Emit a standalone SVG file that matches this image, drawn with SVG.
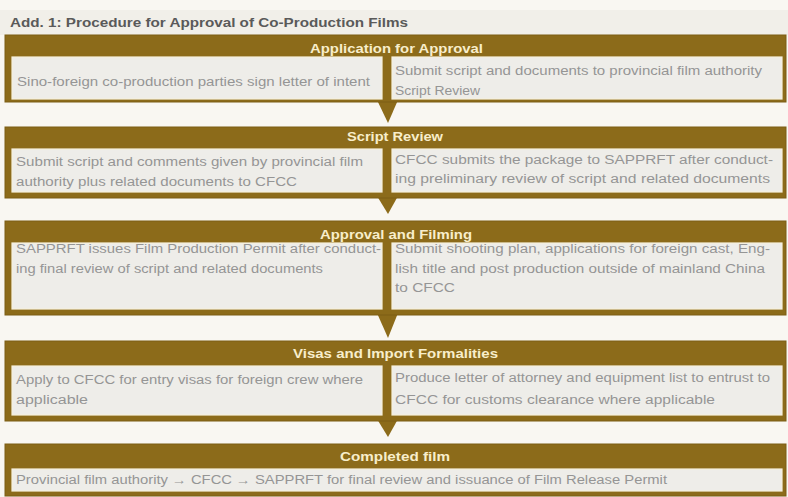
<svg xmlns="http://www.w3.org/2000/svg" width="788" height="497" viewBox="0 0 788 497">
<style>
.blk{fill:#8c6b1a;stroke:#7c5e14;stroke-width:1}
.cell{fill:#eeede9;stroke:#f7f1dc;stroke-width:1.2}
.hd{font-family:"Liberation Sans",Arial,sans-serif;font-weight:bold;font-size:13.5px;fill:#f8eecb;text-anchor:start}
.tx{font-family:"Liberation Sans",Arial,sans-serif;font-size:12px;fill:#959595}
.title{font-family:"Liberation Sans",Arial,sans-serif;font-weight:bold;font-size:13px;fill:#5a5a5a}
.arr{fill:#8c6b1a}
</style>
<rect x="0" y="0" width="788" height="497" fill="#f9f7f2"/>
<rect x="0" y="10" width="788" height="25" fill="#f1efe9"/>
<text class="title" x="10" y="27" textLength="398" lengthAdjust="spacingAndGlyphs">Add. 1: Procedure for Approval of Co-Production Films</text>

<g id="connectors">
<polygon class="arr" points="377,100 398,100 388,123"/>
<polygon class="arr" points="377,196 398,196 388,214"/>
<polygon class="arr" points="377,313 398,313 388,338"/>
<polygon class="arr" points="377,419 398,419 388,437"/>
</g>

<g id="application">
<rect class="blk" x="5" y="35" width="781" height="67"/>
<text class="hd" x="310" y="53" textLength="173" lengthAdjust="spacingAndGlyphs">Application for Approval</text>
<rect class="cell" x="12" y="57" width="370" height="42"/>
<rect class="cell" x="392" y="57" width="390" height="42"/>
<text class="tx" x="17" y="86" textLength="353" lengthAdjust="spacingAndGlyphs">Sino-foreign co-production parties sign letter of intent</text>
<text class="tx" x="395" y="75" textLength="367" lengthAdjust="spacingAndGlyphs">Submit script and documents to provincial film authority</text>
<text class="tx" x="395" y="95" textLength="85" lengthAdjust="spacingAndGlyphs">Script Review</text>
</g>

<g id="script-review">
<rect class="blk" x="5" y="127" width="781" height="71"/>
<text class="hd" x="347" y="141" textLength="96" lengthAdjust="spacingAndGlyphs">Script Review</text>
<rect class="cell" x="12" y="149" width="370" height="43"/>
<rect class="cell" x="392" y="149" width="390" height="43"/>
<text class="tx" x="16" y="166" textLength="347" lengthAdjust="spacingAndGlyphs">Submit script and comments given by provincial film</text>
<text class="tx" x="16" y="186" textLength="281" lengthAdjust="spacingAndGlyphs">authority plus related documents to CFCC</text>
<text class="tx" x="395" y="164" textLength="378" lengthAdjust="spacingAndGlyphs">CFCC submits the package to SAPPRFT after conduct-</text>
<text class="tx" x="395" y="183" textLength="375" lengthAdjust="spacingAndGlyphs">ing preliminary review of script and related documents</text>
</g>

<g id="approval-filming">
<rect class="blk" x="5" y="221" width="781" height="94"/>
<text class="hd" x="320" y="239" textLength="152" lengthAdjust="spacingAndGlyphs">Approval and Filming</text>
<rect class="cell" x="12" y="243" width="370" height="66"/>
<rect class="cell" x="392" y="243" width="390" height="66"/>
<text class="tx" x="16" y="253" textLength="365" lengthAdjust="spacingAndGlyphs">SAPPRFT issues Film Production Permit after conduct-</text>
<text class="tx" x="16" y="273" textLength="307" lengthAdjust="spacingAndGlyphs">ing final review of script and related documents</text>
<text class="tx" x="395" y="253" textLength="375" lengthAdjust="spacingAndGlyphs">Submit shooting plan, applications for foreign cast, Eng-</text>
<text class="tx" x="395" y="273" textLength="370" lengthAdjust="spacingAndGlyphs">lish title and post production outside of mainland China</text>
<text class="tx" x="395" y="292" textLength="60" lengthAdjust="spacingAndGlyphs">to CFCC</text>
</g>

<g id="visas-import">
<rect class="blk" x="5" y="341" width="781" height="80"/>
<text class="hd" x="293" y="358" textLength="205" lengthAdjust="spacingAndGlyphs">Visas and Import Formalities</text>
<rect class="cell" x="12" y="366" width="370" height="49"/>
<rect class="cell" x="392" y="366" width="390" height="49"/>
<text class="tx" x="16" y="384" textLength="347" lengthAdjust="spacingAndGlyphs">Apply to CFCC for entry visas for foreign crew where</text>
<text class="tx" x="16" y="404" textLength="72" lengthAdjust="spacingAndGlyphs">applicable</text>
<text class="tx" x="395" y="382" textLength="375" lengthAdjust="spacingAndGlyphs">Produce letter of attorney and equipment list to entrust to</text>
<text class="tx" x="395" y="404" textLength="320" lengthAdjust="spacingAndGlyphs">CFCC for customs clearance where applicable</text>
</g>

<g id="completed-film">
<rect class="blk" x="5" y="444" width="781" height="52"/>
<text class="hd" x="340" y="461" textLength="110" lengthAdjust="spacingAndGlyphs">Completed film</text>
<rect class="cell" x="12" y="469" width="770" height="22"/>
<text class="tx" x="16" y="484" textLength="651" lengthAdjust="spacingAndGlyphs">Provincial film authority → CFCC → SAPPRFT for final review and issuance of Film Release Permit</text>
</g>
</svg>
